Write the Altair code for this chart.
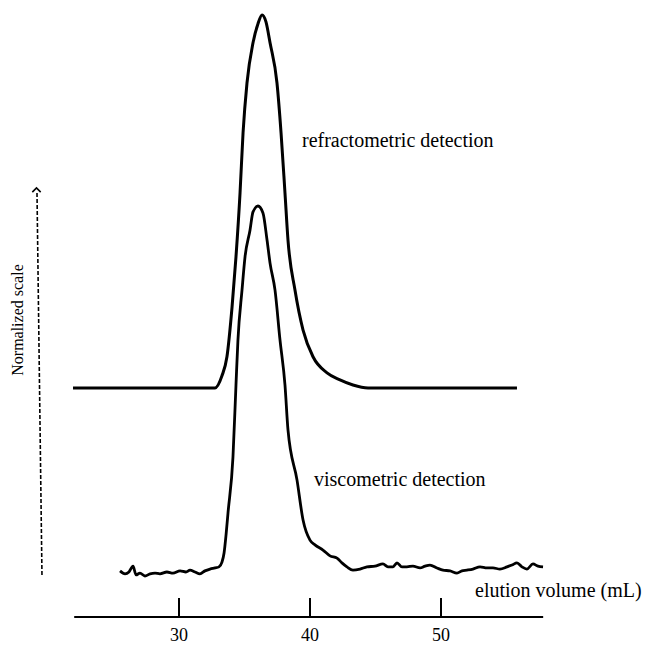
import altair as alt
import pandas as pd

# ---- data (elution volume in mL, normalized signal) ----
ref_ml = [21.91, 25.50, 29.31, 32.75, 33.28, 33.66, 34.05, 34.35, 34.66, 34.89,
          35.19, 35.65, 36.03, 36.34, 36.64, 36.95, 37.48, 37.79, 38.09, 38.32,
          38.85, 39.47, 40.23, 41.30, 42.29, 43.28, 44.43, 49.92, 55.80]
ref_val = [0.0, 0.0, 0.0, 0.0, 0.033, 0.085, 0.221, 0.358, 0.533, 0.697,
           0.833, 0.943, 0.995, 1.019, 1.0, 0.943, 0.833, 0.697, 0.533, 0.404,
           0.268, 0.158, 0.085, 0.041, 0.022, 0.008, 0.0, 0.0, 0.0]

vis_ml = [25.50, 25.88, 26.18, 26.49, 26.72, 27.02, 27.40, 27.79, 28.17, 28.55,
          29.08, 29.54, 30.08, 30.53, 30.84, 31.22, 31.60, 31.98, 32.37, 32.75,
          33.05, 33.28, 33.44, 33.59, 33.74, 34.12, 34.35, 34.50, 34.81, 35.04,
          35.42, 35.65, 36.03, 36.41, 36.72, 36.95, 37.33, 37.71, 38.09, 38.32,
          39.01, 39.47, 40.00, 40.38, 40.99, 41.53, 42.06, 42.44, 42.82, 43.28,
          43.82, 44.35, 44.96, 45.57, 45.95, 46.34, 46.64, 47.02, 47.40, 47.86,
          48.40, 48.78, 49.16, 49.69, 50.15, 50.69, 51.22, 51.60, 51.98, 52.44,
          52.98, 53.51, 53.97, 54.50, 55.04, 55.42, 55.80, 56.18, 56.56, 57.02,
          57.40, 57.79]
vis_val = [0.003, -0.005, 0.0, 0.016, -0.008, -0.003, -0.011, -0.005, -0.003, -0.005,
           0.0, -0.003, 0.003, 0.0, 0.005, 0.0, -0.005, 0.003, 0.008, 0.011,
           0.014, 0.027, 0.052, 0.101, 0.161, 0.314, 0.511, 0.634, 0.770, 0.861,
           0.934, 0.984, 1.0, 0.981, 0.907, 0.844, 0.770, 0.634, 0.511, 0.388,
           0.251, 0.142, 0.087, 0.074, 0.060, 0.044, 0.038, 0.025, 0.014, 0.005,
           0.008, 0.014, 0.016, 0.022, 0.014, 0.014, 0.025, 0.014, 0.014, 0.016,
           0.011, 0.016, 0.019, 0.011, 0.005, 0.003, -0.003, 0.003, 0.005, 0.008,
           0.014, 0.011, 0.011, 0.008, 0.014, 0.019, 0.025, 0.014, 0.008, 0.022,
           0.016, 0.014]

REF_OFFSET = 0.503          # vertical shift of the refractometric trace
tick_values = [30, 40, 50]
tick_labels = ["30", "40", "50"]
axis_start, axis_end = 22.0, 57.8

labels = {
    "ref": "refractometric detection",
    "vis": "viscometric detection",
    "x": "elution volume (mL)",
    "y": "Normalized scale",
}

FONT = "Liberation Serif"

# ---- tables ----
ref_df = pd.DataFrame({"ml": ref_ml, "signal": [v + REF_OFFSET for v in ref_val]})
vis_df = pd.DataFrame({"ml": vis_ml, "signal": vis_val})
tick_df = pd.DataFrame({"ml": tick_values, "label": tick_labels})
axis_df = pd.DataFrame({"ml": [axis_start], "ml2": [axis_end]})

xscale = alt.Scale(domain=[16.336, 65.573], nice=False, zero=False)
yscale = alt.Scale(domain=[-0.2077, 1.5628], nice=False, zero=False)

X = alt.X("ml:Q", scale=xscale, axis=None)
Y = alt.Y("signal:Q", scale=yscale, axis=None)

ref_line = alt.Chart(ref_df).mark_line(color="black", strokeWidth=3, interpolate="monotone").encode(x=X, y=Y)
vis_line = alt.Chart(vis_df).mark_line(color="black", strokeWidth=2.8, interpolate="monotone").encode(x=X, y=Y)

axis_line = alt.Chart(axis_df).mark_rule(color="black", strokeWidth=2.2).encode(
    x=X, x2="ml2:Q", y=alt.value(617))
tick_rules = alt.Chart(tick_df).mark_rule(color="black", strokeWidth=2).encode(
    x=X, y=alt.value(598), y2=alt.value(617))
tick_text = alt.Chart(tick_df).mark_text(font=FONT, fontSize=18, baseline="middle", align="center", color="black").encode(
    x=X, y=alt.value(636), text="label:N")

def note(txt, x, y, size=20, angle=0, align="left", baseline="alphabetic"):
    return alt.Chart(pd.DataFrame({"t": [txt]})).mark_text(
        font=FONT, fontSize=size, align=align, baseline=baseline, angle=angle, color="black"
    ).encode(x=alt.value(x), y=alt.value(y), text="t:N")

ref_note = note(labels["ref"], 302, 147)
vis_note = note(labels["vis"], 314, 486)
x_note = note(labels["x"], 475, 597)
y_note = note(labels["y"], 18, 320, size=16, angle=270, align="center", baseline="middle")

y_arrow_line = alt.Chart(pd.DataFrame({"a": [0]})).mark_rule(
    color="black", strokeWidth=1.6, strokeDash=[4, 2]).encode(
    x=alt.value(37), x2=alt.value(42), y=alt.value(193), y2=alt.value(577))
y_arrow_head = alt.Chart(pd.DataFrame({"a": [0]})).mark_point(
    shape="M -1 0.5 L 0 -0.5 L 1 0.5", size=70, filled=False, color="black", strokeWidth=1.6, opacity=1).encode(
    x=alt.value(36.5), y=alt.value(190))

chart = alt.layer(
    axis_line, tick_rules, tick_text, ref_line, vis_line,
    ref_note, vis_note, x_note, y_note, y_arrow_line, y_arrow_head
).properties(
    width=645, height=648,
    autosize=alt.AutoSizeParams(type="none"),
    padding=0, background="white"
).configure_view(stroke=None)

chart.save("out.html", embed_options={"renderer": "svg", "actions": False})
